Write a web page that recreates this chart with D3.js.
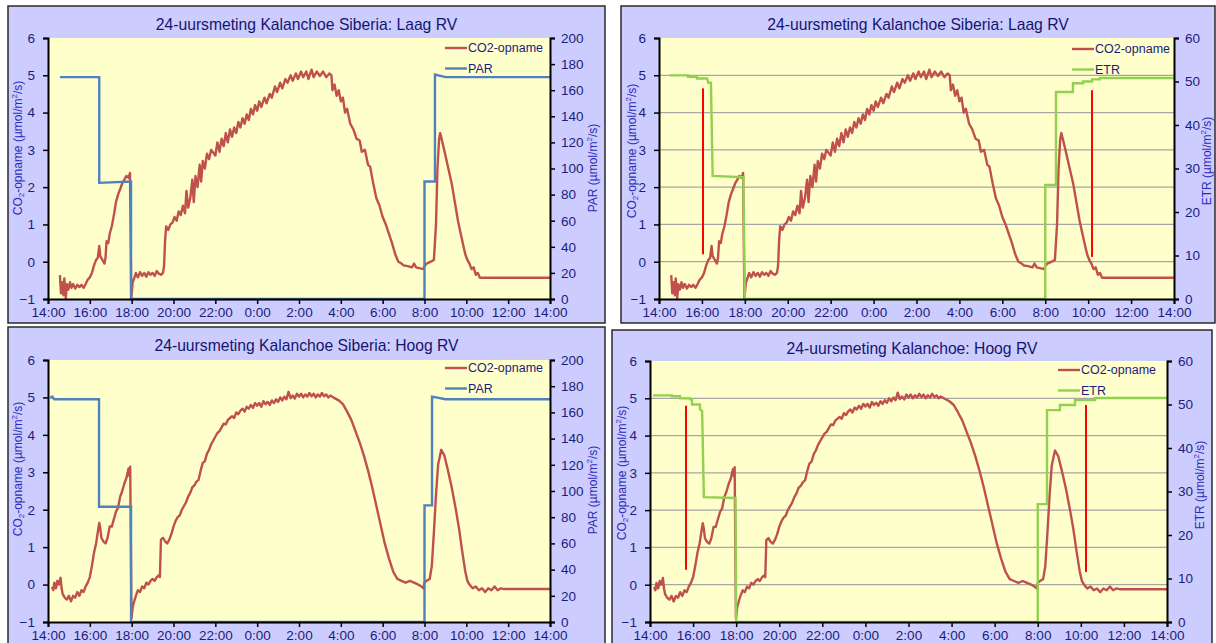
<!DOCTYPE html>
<html>
<head>
<meta charset="utf-8">
<script src="https://cdn.jsdelivr.net/npm/d3@7"></script>
<style>
  body { margin: 0; background: #fff; }
  svg { font-family: "Liberation Sans", Arial, sans-serif; }
</style>
</head>
<body>
<svg id="chart" width="1216" height="643"></svg>
<script>
// time = hours after 14:00, value = CO2 uptake (umol/m2/s)
var laagCO2 = [
  [0.57,-0.36],[0.62,-0.85],[0.68,-0.55],[0.74,-0.9],[0.78,-0.45],[0.85,-0.98],[0.9,-0.6],[0.97,-0.75],
  [1.05,-0.55],[1.12,-0.7],[1.2,-0.6],[1.3,-0.72],[1.4,-0.62],[1.5,-0.68],[1.6,-0.62],[1.7,-0.7],
  [1.8,-0.6],[1.9,-0.48],[2.0,-0.42],[2.1,-0.3],[2.2,-0.1],[2.3,0.05],[2.38,0.1],[2.45,0.42],
  [2.5,0.15],[2.6,0.05],[2.7,-0.05],[2.75,0.1],[2.8,0.55],[2.88,0.5],[2.95,0.75],[3.05,0.95],
  [3.15,1.25],[3.25,1.6],[3.35,1.8],[3.45,1.95],[3.55,2.1],[3.65,2.2],[3.75,2.3],[3.85,2.25],
  [3.92,2.38],[3.98,-1.0],[4.05,-0.55],[4.12,-0.45],[4.2,-0.3],[4.3,-0.42],[4.4,-0.28],[4.5,-0.38],
  [4.6,-0.3],[4.7,-0.4],[4.8,-0.28],[4.9,-0.35],[5.0,-0.3],[5.1,-0.38],[5.2,-0.25],[5.3,-0.32],
  [5.4,-0.35],[5.5,-0.3],[5.55,-0.1],[5.6,0.6],[5.65,0.95],[5.75,0.85],[5.85,1.0],[5.95,1.05],
  [6.05,1.2],[6.15,1.1],[6.25,1.35],[6.35,1.25],[6.45,1.5],[6.55,1.3],[6.62,1.9],[6.7,1.45],
  [6.8,1.7],[6.9,2.2],[6.97,1.6],[7.05,2.3],[7.15,2.0],[7.25,2.6],[7.32,2.15],[7.4,2.7],
  [7.5,2.5],[7.6,2.9],[7.7,2.75],[7.8,3.0],[8.0,2.85],[8.1,3.2],[8.2,2.95],[8.3,3.3],
  [8.4,3.1],[8.5,3.45],[8.6,3.2],[8.7,3.55],[8.8,3.35],[8.9,3.6],[9.0,3.45],[9.1,3.75],
  [9.2,3.6],[9.3,3.85],[9.4,3.7],[9.5,3.95],[9.6,3.8],[9.7,4.1],[9.8,3.95],[9.9,4.2],
  [10.0,4.05],[10.1,4.3],[10.2,4.15],[10.35,4.4],[10.45,4.25],[10.6,4.5],[10.7,4.4],[10.85,4.7],
  [10.95,4.55],[11.1,4.8],[11.2,4.65],[11.35,4.9],[11.45,4.8],[11.6,5.0],[11.7,4.85],[11.85,5.05],
  [11.95,4.9],[12.1,5.1],[12.2,4.95],[12.35,5.1],[12.45,4.9],[12.6,5.15],[12.7,4.95],[12.85,5.1],
  [13.0,4.98],[13.15,5.1],[13.3,4.95],[13.45,5.05],[13.55,5.0],[13.6,4.6],[13.7,4.75],[13.8,4.45],
  [13.9,4.6],[14.0,4.3],[14.1,4.4],[14.2,4.0],[14.3,4.1],[14.45,3.7],[14.6,3.55],[14.75,3.3],
  [14.9,3.25],[15.0,2.95],[15.15,3.0],[15.3,2.6],[15.4,2.55],[15.55,2.1],[15.7,1.7],[15.85,1.5],
  [16.0,1.2],[16.15,1.0],[16.3,0.75],[16.45,0.5],[16.6,0.2],[16.75,0.0],[16.9,-0.05],[17.0,-0.1],
  [17.2,-0.12],[17.4,-0.15],[17.5,-0.05],[17.6,-0.15],[17.8,-0.18],[17.95,-0.2],[18.0,-0.12],[18.1,-0.05],
  [18.3,0.0],[18.45,0.05],[18.55,1.0],[18.62,2.5],[18.7,3.3],[18.75,3.45],[18.9,3.1],[19.1,2.6],
  [19.3,2.1],[19.45,1.6],[19.6,1.1],[19.75,0.7],[19.85,0.45],[19.95,0.2],[20.05,0.05],[20.15,-0.05],
  [20.25,-0.2],[20.35,-0.15],[20.45,-0.35],[20.55,-0.3],[20.65,-0.43],[24.0,-0.43]
];

var hoogCO2 = [
  [0.19,-0.06],[0.25,-0.15],[0.3,0.05],[0.38,-0.1],[0.45,0.1],[0.52,0.0],[0.6,0.18],[0.65,-0.1],
  [0.7,-0.25],[0.8,-0.35],[0.9,-0.4],[1.0,-0.3],[1.1,-0.45],[1.2,-0.3],[1.3,-0.35],[1.4,-0.2],
  [1.5,-0.3],[1.6,-0.15],[1.7,-0.2],[1.8,-0.05],[1.9,0.05],[2.0,0.2],[2.1,0.5],[2.2,0.85],
  [2.3,1.1],[2.38,1.4],[2.45,1.65],[2.5,1.5],[2.55,1.25],[2.65,1.15],[2.75,1.1],[2.85,1.25],
  [2.95,1.55],[3.05,1.55],[3.15,1.75],[3.25,1.95],[3.35,2.05],[3.45,2.35],[3.55,2.5],[3.65,2.7],
  [3.75,2.85],[3.85,3.1],[3.9,2.9],[3.93,3.15],[3.99,-0.9],[4.05,-0.6],[4.12,-0.45],[4.2,-0.3],
  [4.3,-0.15],[4.4,-0.2],[4.5,-0.05],[4.6,-0.1],[4.7,0.05],[4.8,0.0],[4.9,0.1],[5.0,0.15],
  [5.1,0.1],[5.2,0.2],[5.3,0.25],[5.35,0.2],[5.4,1.2],[5.5,1.25],[5.6,1.15],[5.7,1.1],
  [5.8,1.2],[5.9,1.35],[6.0,1.55],[6.1,1.7],[6.2,1.8],[6.3,1.85],[6.4,2.0],[6.5,2.1],
  [6.6,2.2],[6.7,2.35],[6.8,2.45],[6.9,2.6],[7.0,2.65],[7.1,2.75],[7.2,2.8],[7.3,3.05],
  [7.4,3.25],[7.5,3.3],[7.6,3.5],[7.7,3.6],[7.8,3.75],[7.9,3.85],[8.0,3.95],[8.1,4.05],
  [8.2,4.1],[8.3,4.2],[8.4,4.3],[8.5,4.28],[8.6,4.4],[8.7,4.45],[8.8,4.5],[8.9,4.45],
  [9.0,4.6],[9.1,4.55],[9.2,4.65],[9.3,4.7],[9.4,4.62],[9.5,4.75],[9.6,4.7],[9.7,4.8],
  [9.8,4.72],[9.9,4.85],[10.0,4.78],[10.1,4.85],[10.2,4.75],[10.3,4.9],[10.4,4.82],[10.5,4.88],
  [10.6,4.8],[10.7,4.92],[10.8,4.85],[10.9,4.95],[11.0,4.88],[11.1,5.0],[11.2,4.92],[11.3,5.02],
  [11.4,4.95],[11.5,5.15],[11.6,4.98],[11.7,5.05],[11.8,4.97],[11.9,5.1],[12.0,5.02],[12.1,5.1],
  [12.2,5.0],[12.3,5.08],[12.4,5.02],[12.5,5.12],[12.6,5.03],[12.7,5.1],[12.8,5.0],[12.9,5.08],
  [13.0,5.02],[13.1,5.12],[13.2,5.03],[13.3,5.08],[13.4,5.0],[13.5,5.05],[13.7,4.98],[13.9,4.92],
  [14.1,4.82],[14.3,4.62],[14.5,4.4],[14.7,4.1],[14.9,3.8],[15.1,3.45],[15.3,3.05],[15.5,2.6],
  [15.7,2.1],[15.9,1.6],[16.1,1.1],[16.3,0.7],[16.5,0.35],[16.7,0.15],[16.9,0.1],[17.1,0.05],
  [17.3,0.1],[17.5,0.05],[17.7,0.0],[17.85,-0.05],[17.95,-0.1],[18.0,0.05],[18.1,0.1],[18.25,0.15],
  [18.35,0.5],[18.45,1.4],[18.55,2.4],[18.65,3.2],[18.8,3.6],[18.95,3.45],[19.1,3.1],[19.3,2.6],
  [19.5,2.0],[19.65,1.5],[19.8,0.9],[19.95,0.35],[20.05,0.1],[20.15,0.0],[20.3,-0.1],[20.45,-0.05],
  [20.6,-0.15],[20.75,-0.1],[20.9,-0.2],[21.05,-0.1],[21.2,-0.15],[21.35,-0.05],[21.5,-0.15],[21.65,-0.1],
  [21.8,-0.12],[24.0,-0.12]
];

// PAR (umol/m2/s)
var laagPAR = [[0.57,170],[2.45,170],[2.45,89],[3.97,90],[3.97,0],[18.0,0],[18.0,90],[18.5,90],[18.5,172],[19.0,170],[24,170]];
var hoogPAR = [[0.1,171],[0.2,172],[0.3,170],[2.44,170],[2.44,88],[3.97,88],[3.97,0],[18.0,0],[18.0,89],[18.36,89],[18.36,172],[19.0,170],[24,170]];

// ETR (umol/m2/s)
var laagETR = [[0.5,51.4],[1.35,51.4],[1.35,51.1],[1.77,51.1],[1.77,50.7],[2.24,50.7],[2.3,49.7],[2.42,49.7],
  [2.5,28.3],[3.93,28.0],[4.0,0],[18.0,0],[18.0,26.2],[18.5,26.2],[18.5,47.6],[19.29,47.6],[19.29,49.6],
  [19.76,49.6],[19.76,50.0],[20.18,50.0],[20.18,50.5],[20.55,50.5],[20.55,50.8],[24,50.8]];
var hoogETR = [[0.14,52.1],[1.02,52.1],[1.02,51.9],[1.39,51.9],[1.39,51.4],[1.86,51.4],[1.86,51.2],[1.95,51.2],
  [1.95,50.0],[2.32,50.0],[2.32,48.9],[2.42,48.5],[2.5,28.7],[3.97,28.5],[4.0,0],[18.0,0],[18.0,27.1],
  [18.43,27.1],[18.43,48.7],[19.03,48.7],[19.03,49.9],[19.73,49.9],[19.73,51.0],[20.66,51.0],[20.66,51.5],[24,51.5]];

// red marker lines: [hour, top, bottom] in CO2 units
var laagMarks = [[2.05,4.65,0.2],[20.18,4.6,0.13]];
var hoogMarks = [[1.67,4.8,0.4],[20.24,4.82,0.34]];

var xTicks = [0,2,4,6,8,10,12,14,16,18,20,22,24];
var leftTicks = [-1,0,1,2,3,4,5,6];

var panels = [
  {title:"24-uursmeting Kalanchoe Siberia: Laag RV", box:[8,6,597,317], plot:[48,38,550,299],
   co2:laagCO2, light:laagPAR, lightName:"PAR", lightColor:"#4F81BD", lightMax:200, lightStep:20,
   grid:false, marks:[], legend:[445,48], leftLab:[18,148], rightLab:[593,168]},
  {title:"24-uursmeting Kalanchoe Siberia: Laag RV", box:[621,6,594,317], plot:[659,38,1174,299],
   co2:laagCO2, light:laagETR, lightName:"ETR", lightColor:"#92D050", lightMax:60, lightStep:10,
   grid:true, marks:laagMarks, legend:[1072,49], leftLab:[632,151], rightLab:[1207,161]},
  {title:"24-uursmeting Kalanchoe Siberia: Hoog RV", box:[8,327,597,330], plot:[48,360,550,622],
   co2:hoogCO2, light:hoogPAR, lightName:"PAR", lightColor:"#4F81BD", lightMax:200, lightStep:20,
   grid:false, marks:[], legend:[445,368], leftLab:[18,469], rightLab:[593,490]},
  {title:"24-uursmeting Kalanchoe: Hoog RV", box:[612,330,600,330], plot:[650,361,1167,622],
   co2:hoogCO2, light:hoogETR, lightName:"ETR", lightColor:"#92D050", lightMax:60, lightStep:10,
   grid:true, marks:hoogMarks, legend:[1058,370], leftLab:[622,473], rightLab:[1200,485]}
];

var svg = d3.select("#chart");

function fmtHour(h) { return ((14 + h) % 24) + ":00"; }

function addUnitLabel(g, x, y, prefix) {
  var t = g.append("text")
    .attr("transform", "translate(" + x + "," + y + ") rotate(-90)")
    .attr("text-anchor", "middle")
    .attr("dominant-baseline", "central")
    .attr("fill", "#2B2BB8")
    .attr("font-size", 12);
  if (prefix == "CO2") {
    t.append("tspan").text("CO");
    t.append("tspan").attr("font-size", 8).attr("dy", 3).text("2");
    t.append("tspan").attr("dy", -3).text("-opname  (µmol/m");
  } else {
    t.append("tspan").text(prefix + " (µmol/m");
  }
  t.append("tspan").attr("font-size", 8).attr("dy", -4).text("2");
  t.append("tspan").attr("dy", 4).text("/s)");
}

panels.forEach(function(p) {
  var g = svg.append("g");
  var x0 = p.plot[0], y0 = p.plot[1], x1 = p.plot[2], y1 = p.plot[3];

  g.append("rect")
    .attr("x", p.box[0]).attr("y", p.box[1])
    .attr("width", p.box[2]).attr("height", p.box[3])
    .attr("fill", "#CCCCFF").attr("stroke", "#2a2a2a").attr("stroke-width", 1.5);

  g.append("rect")
    .attr("x", x0).attr("y", y0).attr("width", x1 - x0).attr("height", y1 - y0)
    .attr("fill", "#FFFFCC");

  var x = d3.scaleLinear().domain([0, 24]).range([x0, x1]);
  var yL = d3.scaleLinear().domain([-1, 6]).range([y1, y0]);
  var yR = d3.scaleLinear().domain([0, p.lightMax]).range([y1, y0]);

  if (p.grid) {
    g.selectAll(".grid").data([0,1,2,3,4,5]).enter().append("line")
      .attr("x1", x0).attr("x2", x1)
      .attr("y1", function(d) { return yL(d); })
      .attr("y2", function(d) { return yL(d); })
      .attr("stroke", "#A6A6A6").attr("stroke-width", 1.3);
  }

  var line = d3.line()
    .x(function(d) { return x(d[0]); })
    .y(function(d) { return yL(d[1]); });
  var lineR = d3.line()
    .x(function(d) { return x(d[0]); })
    .y(function(d) { return yR(d[1]); });

  g.append("path").datum(p.co2)
    .attr("d", line).attr("fill", "none")
    .attr("stroke", "#C0504D").attr("stroke-width", 2.4).attr("stroke-linejoin", "round");

  g.append("path").datum(p.light)
    .attr("d", lineR).attr("fill", "none")
    .attr("stroke", p.lightColor).attr("stroke-width", 2.4);

  p.marks.forEach(function(m) {
    g.append("line")
      .attr("x1", x(m[0])).attr("x2", x(m[0]))
      .attr("y1", yL(m[1])).attr("y2", yL(m[2]))
      .attr("stroke", "#FF0000").attr("stroke-width", 2);
  });

  // axes
  var ax = g.append("g").attr("transform", "translate(0," + y1 + ")")
    .call(d3.axisBottom(x).tickValues(xTicks).tickFormat(fmtHour).tickSize(5).tickPadding(3));
  var al = g.append("g").attr("transform", "translate(" + x0 + ",0)")
    .call(d3.axisLeft(yL).tickValues(leftTicks).tickFormat(d3.format("d")).tickSize(5).tickPadding(8));
  var rTicks = d3.range(0, p.lightMax + 1, p.lightStep);
  var ar = g.append("g").attr("transform", "translate(" + x1 + ",0)")
    .call(d3.axisRight(yR).tickValues(rTicks).tickFormat(d3.format("d")).tickSize(5).tickPadding(6));

  [ax, al, ar].forEach(function(a) {
    a.select(".domain").attr("stroke", "#000").attr("stroke-width", 2);
    a.selectAll(".tick line").attr("stroke", "#000").attr("stroke-width", 1.5);
    a.selectAll(".tick text").attr("fill", "#1C1C7A").attr("font-size", 13.5)
      .attr("font-family", "Liberation Sans, Arial, sans-serif");
  });

  // title
  g.append("text")
    .attr("x", p.box[0] + p.box[2] / 2).attr("y", p.box[1] + 24)
    .attr("text-anchor", "middle").attr("fill", "#15156E").attr("font-size", 15.7)
    .text(p.title);

  addUnitLabel(g, p.leftLab[0], p.leftLab[1], "CO2");
  addUnitLabel(g, p.rightLab[0], p.rightLab[1], p.lightName);

  // legend
  var lg = [["CO2-opname", "#C0504D"], [p.lightName, p.lightColor]];
  lg.forEach(function(d, i) {
    var ly = p.legend[1] + i * 20.5;
    g.append("line")
      .attr("x1", p.legend[0]).attr("x2", p.legend[0] + 22)
      .attr("y1", ly).attr("y2", ly)
      .attr("stroke", d[1]).attr("stroke-width", 2.4);
    g.append("text")
      .attr("x", p.legend[0] + 23).attr("y", ly)
      .attr("dominant-baseline", "central")
      .attr("fill", "#1C1C7A").attr("font-size", 12.5)
      .text(d[0]);
  });
});
</script>
</body>
</html>
